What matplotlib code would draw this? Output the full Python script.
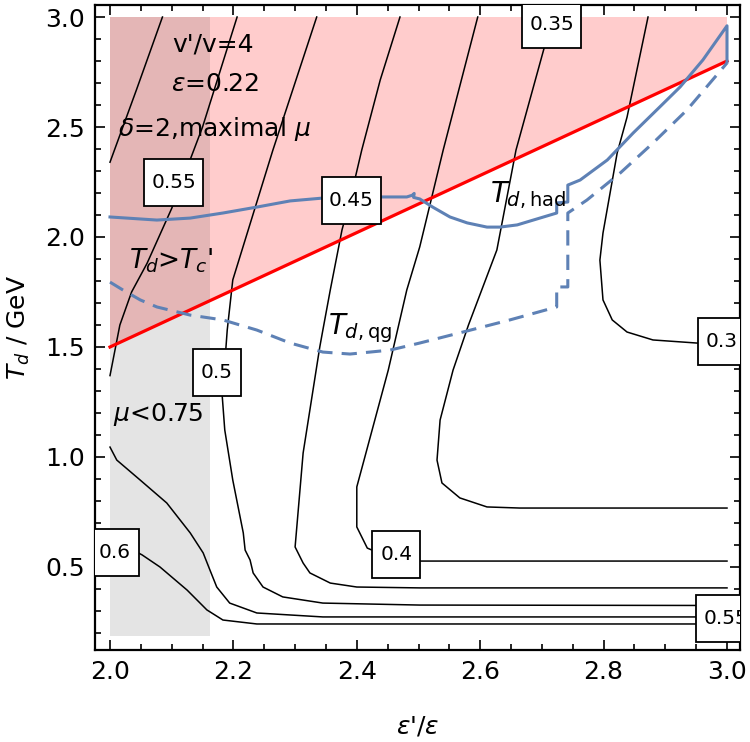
"""Contour map of T_d vs eps'/eps with the T_d,had / T_d,qg boundaries."""

import matplotlib
matplotlib.use("Agg")
import matplotlib.pyplot as plt
from matplotlib.patches import Rectangle
from matplotlib.ticker import MultipleLocator

plt.rcParams["font.family"] = ["DejaVu Sans"]
plt.rcParams["mathtext.fontset"] = "dejavusans"

# Colours (Mathematica-like)
PINK = "#ffcccc"
RED = "#ff0000"
BLUE = "#5e81b5"
INK = "black"

# ---- contour lines (x = eps'/eps, y = T_d in GeV) ----
line_a_x = [2.0, 2.043, 2.085]
line_a_y = [2.34, 2.67, 3.0]

line_055_x = [2.0, 2.016, 2.035, 2.06, 2.10, 2.15, 2.206]
line_055_y = [1.37, 1.60, 1.75, 1.88, 2.13, 2.50, 3.0]

line_050_x = [2.335, 2.264, 2.199, 2.190, 2.182, 2.186, 2.199, 2.216, 2.219, 2.227,
              2.232, 2.248, 2.280, 2.345, 2.502, 3.0]
line_050_y = [3.0, 2.395, 1.805, 1.577, 1.273, 1.123, 0.895, 0.655, 0.577, 0.532,
              0.473, 0.409, 0.364, 0.336, 0.327, 0.325]

line_045_x = [2.470, 2.438, 2.408, 2.389, 2.376, 2.357, 2.345, 2.340, 2.313, 2.300,
              2.313, 2.324, 2.357, 2.400, 2.502, 3.0]
line_045_y = [3.0, 2.714, 2.395, 2.168, 2.032, 1.759, 1.577, 1.50, 1.018, 0.591,
              0.518, 0.473, 0.427, 0.409, 0.405, 0.405]

line_040_x = [2.596, 2.540, 2.502, 2.481, 2.451, 2.400, 2.400, 2.417, 2.462, 2.502, 3.0]
line_040_y = [3.0, 2.395, 1.955, 1.759, 1.395, 0.864, 0.682, 0.586, 0.532, 0.527, 0.527]

line_035_x = [2.716, 2.705, 2.658, 2.627, 2.581, 2.556, 2.535, 2.530, 2.538, 2.567,
              2.611, 2.664, 3.0]
line_035_y = [3.0, 2.873, 2.395, 1.941, 1.60, 1.395, 1.168, 0.986, 0.882, 0.814,
              0.773, 0.768, 0.768]

line_030_x = [2.872, 2.838, 2.822, 2.799, 2.794, 2.799, 2.814, 2.838, 2.880, 2.951, 3.0]
line_030_y = [3.0, 2.545, 2.382, 2.018, 1.895, 1.714, 1.623, 1.568, 1.532, 1.518, 1.518]

line_055b_x = [2.0, 2.011, 2.049, 2.092, 2.130, 2.151, 2.162, 2.173, 2.194, 2.238,
               2.345, 3.0]
line_055b_y = [1.045, 0.986, 0.895, 0.791, 0.655, 0.564, 0.486, 0.409, 0.336, 0.291,
               0.273, 0.273]

line_060_x = [2.0, 2.052, 2.081, 2.125, 2.157, 2.183, 2.238, 2.502, 3.0]
line_060_y = [0.632, 0.555, 0.50, 0.395, 0.305, 0.259, 0.241, 0.241, 0.241]

contour_lines = [
    (line_a_x, line_a_y), (line_055_x, line_055_y), (line_050_x, line_050_y),
    (line_045_x, line_045_y), (line_040_x, line_040_y), (line_035_x, line_035_y),
    (line_030_x, line_030_y), (line_055b_x, line_055b_y), (line_060_x, line_060_y),
]

# contour labels: text, x, y
label_text = ["0.55", "0.45", "0.35", "0.5", "0.4", "0.3", "0.55", "0.6"]
label_x = [2.103, 2.391, 2.716, 2.173, 2.464, 2.992, 2.998, 2.008]
label_y = [2.25, 2.168, 2.968, 1.386, 0.555, 1.527, 0.264, 0.565]

# ---- decoupling temperatures ----
had_x = [2.0, 2.076, 2.130, 2.183, 2.238, 2.292, 2.345, 2.441, 2.481, 2.490, 2.493,
         2.492, 2.502, 2.523, 2.551, 2.579, 2.611, 2.632, 2.660, 2.686, 2.724, 2.724,
         2.742, 2.742, 2.762, 2.806, 2.848, 2.891, 2.924, 2.961, 3.0, 3.0]
had_y = [2.091, 2.077, 2.086, 2.109, 2.136, 2.164, 2.177, 2.182, 2.182, 2.190, 2.198,
         2.180, 2.173, 2.136, 2.091, 2.064, 2.045, 2.045, 2.055, 2.077, 2.109, 2.155,
         2.159, 2.236, 2.259, 2.350, 2.473, 2.591, 2.682, 2.805, 2.960, 2.795]

qg_x = [2.0, 2.021, 2.049, 2.076, 2.130, 2.183, 2.238, 2.292, 2.345, 2.389, 2.454,
        2.502, 2.572, 2.648, 2.724, 2.724, 2.742, 2.742, 2.773, 2.827, 2.880, 2.935, 3.0]
qg_y = [1.795, 1.759, 1.714, 1.682, 1.645, 1.623, 1.577, 1.518, 1.477, 1.468, 1.486,
        1.518, 1.568, 1.623, 1.682, 1.773, 1.773, 2.109, 2.168, 2.291, 2.427, 2.577, 2.791]

# T_d > T_c' boundary (straight line) and mu < 0.75 band
tc_x = [2.0, 3.0]
tc_y = [1.5, 2.8]
ytop = 3.0
mu_x = [2.0, 2.162]
mu_y = [0.186, 3.0]

# pixel scale of the axes (617 px per unit in x, 220 px per unit in y)
PX_X = 1 / 617
PX_Y = 1 / 220

fig = plt.figure(figsize=(7.5, 7.42), dpi=100)
ax = fig.add_axes([95 / 750, 1 - 650 / 742, 645 / 750, 645 / 742])

ax.fill([tc_x[0], tc_x[1], tc_x[1], tc_x[0]], [tc_y[0], tc_y[1], ytop, ytop],
        color=PINK, lw=0, zorder=1)
ax.fill_between(mu_x, mu_y[0], mu_y[1], color="black", alpha=0.105, lw=0, zorder=2)

for xs, ys in contour_lines:
    ax.plot(xs, ys, color=INK, lw=1.1, zorder=3)

ax.plot(tc_x, tc_y, color=RED, lw=2.3, zorder=4)
ax.plot(had_x, had_y, color=BLUE, lw=2.2, zorder=5)
ax.plot(qg_x, qg_y, color=BLUE, lw=2.2, ls=(0, (5, 3)), zorder=5)

for t, x, y in zip(label_text, label_x, label_y):
    w = (59 if len(t) > 3 else 48) * PX_X
    h = 47 * PX_Y
    ax.add_patch(Rectangle((x - w / 2, y - h / 2), w, h, fc="white", ec="black",
                           lw=1.3, zorder=6))
    ax.text(x, y, t, fontsize=14.5, ha="center", va="center", zorder=7, clip_on=True)

ax.text(2.167, 2.873, "v'/v=4", fontsize=18, ha="center", va="center", zorder=8)
ax.text(2.170, 2.695, r"$\epsilon$=0.22", fontsize=18, ha="center", va="center", zorder=8)
ax.text(2.169, 2.49, r"$\delta$=2,maximal $\mu$", fontsize=18, ha="center", va="center",
        zorder=8)
ax.text(2.10, 1.89, r"$T_d$>$T_c$'", fontsize=19, ha="center", va="center", zorder=8)
ax.text(2.079, 1.195, r"$\mu$<0.75", fontsize=18, ha="center", va="center", zorder=8)
ax.text(2.616, 2.16, r"$T_{d,\mathrm{had}}$", fontsize=20, ha="left", va="baseline", zorder=8)
ax.text(2.353, 1.56, r"$T_{d,\mathrm{qg}}$", fontsize=20, ha="left", va="baseline", zorder=8)

ax.set_xlim(2.0 - 15 * PX_X, 3.0 + 13 * PX_X)
ax.set_ylim(0.5 - 83 * PX_Y, 3.0 + 12 * PX_Y)
ax.xaxis.set_major_locator(MultipleLocator(0.2))
ax.xaxis.set_minor_locator(MultipleLocator(0.05))
ax.yaxis.set_major_locator(MultipleLocator(0.5))
ax.yaxis.set_minor_locator(MultipleLocator(0.1))
ax.xaxis.set_major_formatter(plt.FuncFormatter(lambda v, p: f"{v:.1f}"))
ax.yaxis.set_major_formatter(plt.FuncFormatter(lambda v, p: f"{v:.1f}"))
ax.tick_params(which="both", direction="in", top=True, right=True, width=1.2,
               labelsize=18, color=INK)
ax.tick_params(which="major", length=7, pad=7)
ax.tick_params(which="minor", length=4)
for sp in ax.spines.values():
    sp.set_linewidth(1.6)

ax.set_xlabel(r"$\epsilon$'/$\epsilon$", fontsize=18, labelpad=22)
ax.set_ylabel(r"$T_d$ / GeV", fontsize=18, labelpad=10)

fig.savefig("out.png", dpi=100)
